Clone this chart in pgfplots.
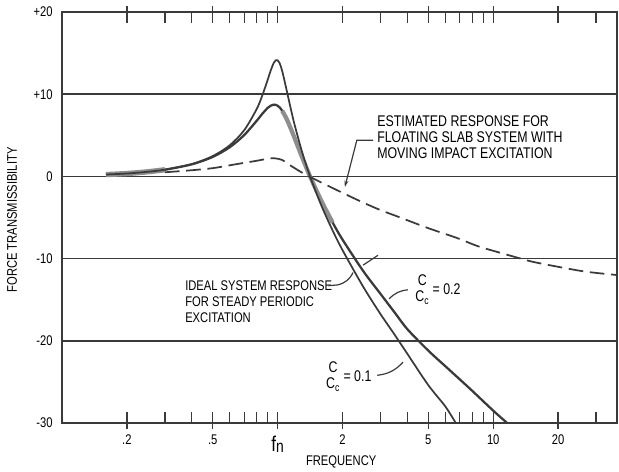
\documentclass[border=0pt]{standalone}
\usepackage{pgfplots}
\pgfplotsset{compat=1.18}
\usepackage{fontspec}
\setmainfont[FakeStretch=0.8]{Liberation Sans}
\usetikzlibrary{arrows.meta,calc}

\definecolor{ink}{HTML}{3A3A3A}
\definecolor{hilite}{HTML}{8E8E8E}

\newcommand{\lab}{\fontsize{10.5}{12}\selectfont}
\newcommand{\note}{\fontsize{11.6}{12}\selectfont}
\newcommand{\ccfrac}{\begin{tabular}{@{}c@{}}C\\[0pt]C\textsubscript{c}\end{tabular}}

\begin{document}
\begin{tikzpicture}
\begin{axis}[
  scale only axis,
  width=416.25pt, height=308.25pt,
  xmode=log,
  xmin=0.1, xmax=37.5,
  ymin=-30, ymax=20,
  axis line style={line width=1.5pt, ink},
  every tick/.style={line width=1pt, ink},
  xtick pos=both,
  xtick={0.2,0.5,1,2,5,10,20},
  xticklabels={.2,.5,{\raisebox{-5pt}{\fontsize{16}{16}\selectfont f\raisebox{-1pt}{\fontsize{13}{13}\selectfont n}}},2,5,10,20},
  minor xtick={0.3,0.4,0.6,0.7,0.8,0.9,3,4,6,7,8,9,30},
  tick align=inside,
  major tick length=8pt, minor tick length=8pt,
  extra x ticks={0.2,0.5,1,2,5,10,20},
  extra x tick labels={,,,,,,},
  extra x tick style={tick align=outside, major tick length=4.5pt},
  ytick={-30,-20,-10,0,10,20},
  yticklabels={-30,-20,-10,0,+10,+20},
  ytick style={draw=none},
  ymajorgrids,
  grid style={line width=1.1pt, ink},
  xticklabel style={font=\lab, anchor=base, yshift=-16.5pt},
  yticklabel style={font=\lab, anchor=east, xshift=-3.5pt},
  xlabel={FREQUENCY},
  ylabel={FORCE TRANSMISSIBILITY},
  xlabel style={font=\lab, at={(axis description cs:0.503,-0.095)}, anchor=center},
  ylabel style={font=\lab, at={(axis description cs:-0.0901,0.494)}, anchor=center},
  clip=false,
]

% c/cc = 0.2
\addplot[ink, line width=1.7pt, smooth] coordinates {
  (0.16,0.22) (0.2,0.35) (0.25,0.56) (0.3,0.81) (0.4,1.47) (0.5,2.37)
  (0.6,3.55) (0.7,5.03) (0.8,6.77) (0.85,7.63) (0.9,8.34) (0.93,8.61)
  (0.96,8.73) (0.98,8.71) (1.0,8.60) (1.02,8.41) (1.05,7.99) (1.1,7.01)
  (1.15,5.84) (1.2,4.63) (1.3,2.31) (1.414,0) (1.6,-3.05) (1.8,-5.62)
  (2,-7.69) (2.5,-11.55) (3,-14.29) (3.5,-16.6) (4,-18.6) (5,-21.2)
  (6,-23.1) (7,-24.7) (8,-26.1) (10,-28.5) (11.6,-30)
};

% gray highlight on c/cc = 0.2
\addplot[hilite, line width=4pt, smooth, forget plot] coordinates {
  (0.16,0.22) (0.2,0.35) (0.25,0.56) (0.3,0.81)
};
\addplot[hilite, line width=3.2pt, smooth, forget plot] coordinates {
  (1.05,7.99) (1.1,7.01) (1.15,5.84) (1.2,4.63) (1.3,2.31) (1.414,0)
  (1.6,-3.05) (1.8,-5.62)
};

% c/cc = 0.1
\addplot[ink, line width=1.3pt, smooth] coordinates {
  (0.16,0.23) (0.2,0.35) (0.25,0.56) (0.3,0.82) (0.4,1.50) (0.5,2.47)
  (0.6,3.79) (0.7,5.62) (0.8,8.20) (0.85,9.88) (0.9,11.78) (0.93,12.92)
  (0.96,13.82) (0.98,14.12) (1.0,14.12) (1.02,13.82) (1.05,12.82)
  (1.1,10.54) (1.15,8.27) (1.2,6.24) (1.3,2.93) (1.414,0) (1.6,-3.62)
  (1.8,-6.59) (2,-8.97) (2.5,-13.47) (3,-16.75) (3.5,-19.31) (4,-21.6)
  (5,-25.4) (6,-28.0) (6.7,-30)
};

% estimated response, moving impact excitation
\addplot[ink, line width=1.3pt, dash pattern=on 11pt off 5pt, smooth] coordinates {
  (0.3,0.5) (0.4,0.75) (0.5,1.0) (0.6,1.35) (0.7,1.65) (0.8,1.9)
  (0.9,2.15) (0.97,2.2) (1.05,2.0) (1.12,1.5) (1.2,1.0) (1.3,0.45)
  (1.4,0) (1.5,-0.4) (1.7,-1.1) (2,-2.0) (2.5,-3.2) (3,-4.1) (3.7,-5.0)
  (5,-6.3) (6.8,-7.5) (8.5,-8.5) (10.8,-9.3) (13,-9.9) (15.3,-10.4)
  (20,-11.0) (27,-11.6) (37.5,-12.0)
};

% annotations
\node[font=\note, anchor=north west, align=left, inner sep=0pt]
  at (axis cs:2.89,7.4) {ESTIMATED RESPONSE FOR\\FLOATING SLAB SYSTEM WITH\\MOVING IMPACT EXCITATION};
\draw[ink, line width=0.9pt, -{Stealth[length=5pt,width=3pt]}]
  (axis cs:2.77,4.4) -- (axis cs:2.33,4.4) -- (axis cs:2.05,-1.3);

\node[font=\fontsize{10.5}{12}\selectfont, anchor=north west, align=left, inner sep=0pt]
  at (axis cs:0.372,-12.6) {IDEAL SYSTEM RESPONSE\\FOR STEADY PERIODIC\\EXCITATION};
\draw[ink, line width=0.9pt]
  (axis cs:1.72,-13.3) -- (axis cs:1.9,-13.2) to[bend right=25] (axis cs:2.237,-11.7);
\draw[ink, line width=0.9pt]
  (axis cs:2.49,-10.8) -- (axis cs:2.92,-9.6);

\node[font=\note, anchor=west, inner sep=0pt]
  at (axis cs:4.34,-13.9) {\ccfrac\ = 0.2};
\draw[ink, line width=0.9pt]
  (axis cs:4.02,-13.8) to[bend right=20] (axis cs:3.29,-14.9);

\node[font=\note, anchor=west, inner sep=0pt]
  at (axis cs:1.675,-24.5) {\ccfrac\ = 0.1};
\draw[ink, line width=0.9pt]
  (axis cs:2.897,-24.2) to[bend right=20] (axis cs:3.815,-22.6);

\end{axis}
\pgfresetboundingbox
\path[use as bounding box] ($(current axis.south west)+(-46.5pt,-36.75pt)$)
  rectangle ($(current axis.north east)+(1.5pt,9pt)$);
\end{tikzpicture}
\end{document}
